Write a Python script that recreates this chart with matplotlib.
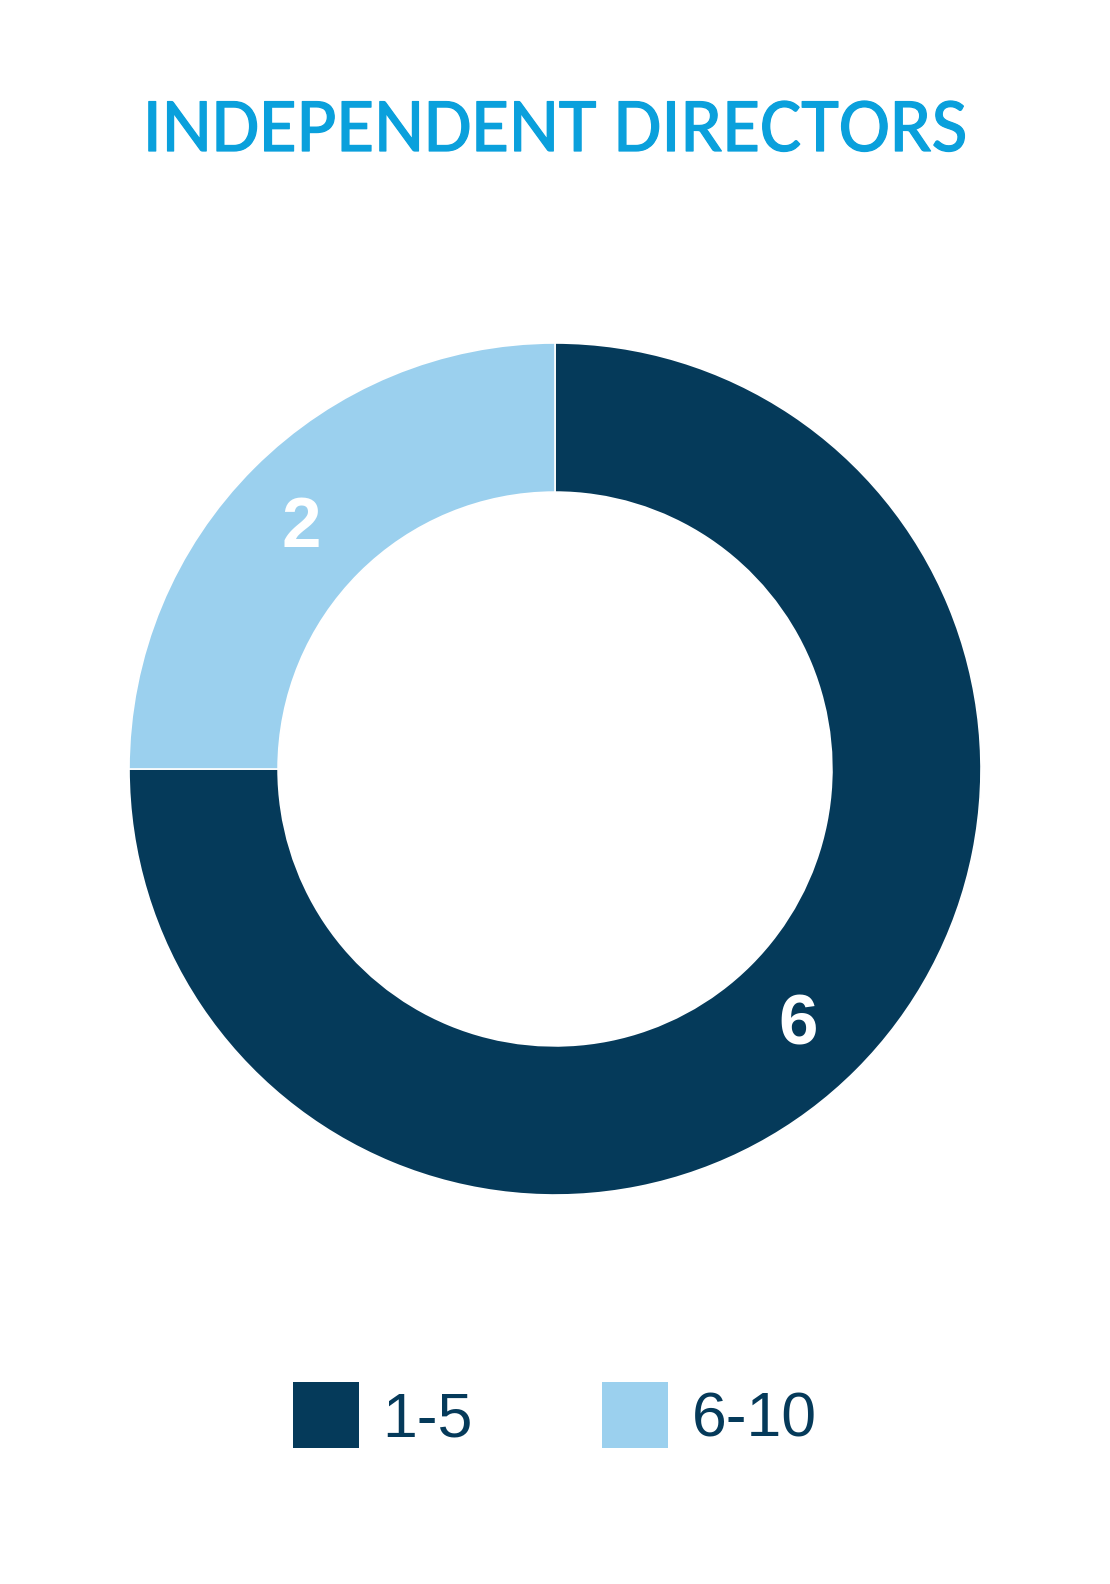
import matplotlib
matplotlib.use("Agg")
import matplotlib.pyplot as plt
import matplotlib.patheffects as pe
from matplotlib.patches import Patch

categories = ["1-5", "6-10"]
values = [6, 2]
colors = ["#053A5A", "#9BD0EE"]
title = "INDEPENDENT DIRECTORS"

W, H = 1110, 1584
fig = plt.figure(figsize=(W / 100, H / 100), dpi=100)
fig.patch.set_facecolor("white")

cx, cy, r = 555, 769, 426
ax = fig.add_axes([(cx - r) / W, (H - cy - r) / H, 2 * r / W, 2 * r / H])
total = sum(values)
wedges, texts, autotexts = ax.pie(
    values, colors=colors, startangle=90, counterclock=False, radius=1.0,
    wedgeprops=dict(width=0.35, edgecolor="white", linewidth=1.2),
    autopct=lambda p: f"{round(p * total / 100)}", pctdistance=0.825,
    textprops=dict(color="white", fontsize=51, fontweight="bold",
                   family="Liberation Sans"))
for t in autotexts:
    x, y = t.get_position()
    t.set_position((x - 0.012, y - 0.021))
ax.set_xlim(-1, 1)
ax.set_ylim(-1, 1)
ax.set_aspect("equal")
ax.axis("off")

title_color = "#0AA0DC"
fig.text(0.5, (H - 151) / H, title, ha="center", va="baseline",
         fontsize=55.5, color=title_color, family=["Carlito", "Lato"],
         path_effects=[pe.withStroke(linewidth=0.9, foreground=title_color)])

handles = [Patch(facecolor=c, edgecolor="none") for c in colors]
leg = fig.legend(handles, categories, loc="center", bbox_to_anchor=(0.5, (H - 1416) / H),
                 ncol=2, frameon=False, handlelength=1.056, handleheight=1.247,
                 handletextpad=0.38, columnspacing=2.07,
                 prop=dict(family="Liberation Sans", size=45))
for t in leg.get_texts():
    t.set_color("#053A5A")

fig.savefig("out.png", dpi=100, facecolor="white")
